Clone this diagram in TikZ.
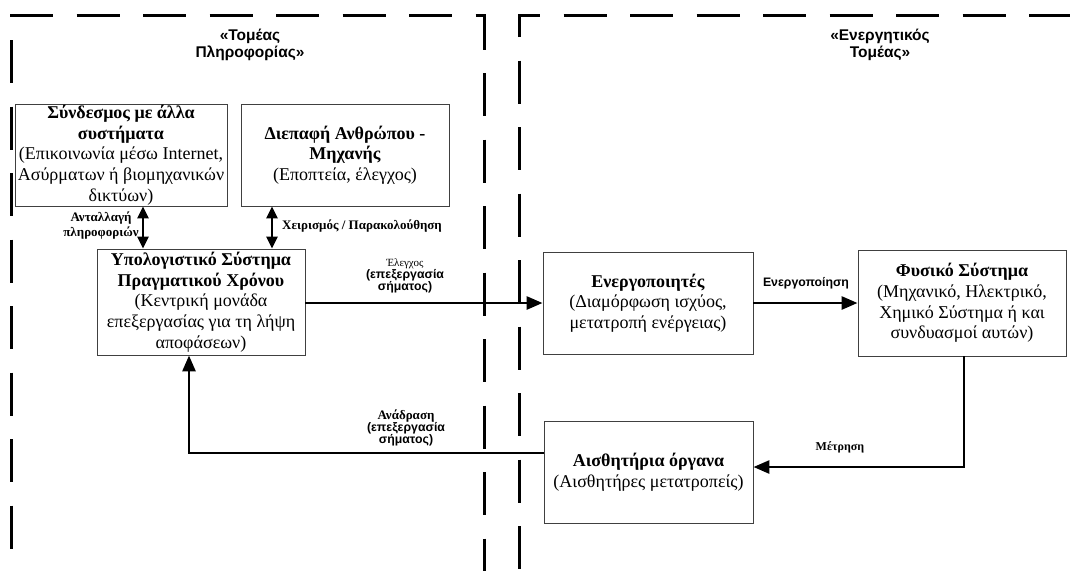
\documentclass[tikz,border=0pt]{standalone}
\usepackage{fontspec}
\setmainfont{Liberation Serif}
\setsansfont{Liberation Sans}
\usetikzlibrary{arrows.meta,calc}
\newcommand\boxfont{\fontsize{18}{20.7}\selectfont}
\newcommand\lblfont{\fontsize{13}{15}\selectfont\bfseries}
\newcommand\sanslbl{\fontsize{12.3}{16}\selectfont\sffamily\bfseries}
\begin{document}
\begin{tikzpicture}[x=1pt,y=-1pt,
  box/.style={draw=black!75,line width=0.9pt,align=center,inner sep=0pt,font=\boxfont},
  frame/.style={line width=3pt,dash pattern=on 43pt off 23.5pt},
  conn/.style={line width=2.8pt,-{Triangle[length=16pt,width=13pt]}},
  biconn/.style={line width=2.8pt,{Triangle[length=12pt,width=11pt]}-{Triangle[length=12pt,width=11pt]}},
  lbl/.style={inner sep=0pt,align=center}]
\useasboundingbox (0,0) rectangle (1070,571);

% dashed domain frames
\draw[frame] (10,15) -- (484,15) -- (484,571);
\draw[frame] (11,40) -- (11,571);
\draw[frame] (519,37) -- (519,15) -- (1070,15);
\draw[frame] (519,60.5) -- (519,571);

% domain titles
\node[lbl,font=\fontsize{15.5}{17}\selectfont\sffamily\bfseries] (t1) at (250,45) {«Τομέας\\Πληροφορίας»};
\node[lbl,font=\fontsize{15.5}{17}\selectfont\sffamily\bfseries] (t2) at (880,45) {«Ενεργητικός\\Τομέας»};

% boxes
\node[box,minimum width=212pt,minimum height=102pt] (b1) at (121,155)
  {\textbf{Σύνδεσμος με άλλα}\\\textbf{συστήματα}\\(Επικοινωνία μέσω Internet,\\Ασύρματων ή βιομηχανικών\\δικτύων)};
\node[box,minimum width=208pt,minimum height=102pt] (b2) at (345,155)
  {\textbf{Διεπαφή Ανθρώπου -}\\\textbf{Μηχανής}\\(Εποπτεία, έλεγχος)};
\node[box,minimum width=208pt,minimum height=106pt] (b3) at (201,302)
  {\textbf{Υπολογιστικό Σύστημα}\\\textbf{Πραγματικού Χρόνου}\\(Κεντρική μονάδα\\επεξεργασίας για τη λήψη\\αποφάσεων)};
\node[box,minimum width=210pt,minimum height=102pt] (b4) at (648,303)
  {\textbf{Ενεργοποιητές}\\(Διαμόρφωση ισχύος,\\μετατροπή ενέργειας)};
\node[box,minimum width=208pt,minimum height=106pt] (b5) at (962,303)
  {\textbf{Φυσικό Σύστημα}\\(Μηχανικό, Ηλεκτρικό,\\Χημικό Σύστημα ή και\\συνδυασμοί αυτών)};
\node[box,minimum width=209pt,minimum height=102pt] (b6) at (648.5,472)
  {\textbf{Αισθητήρια όργανα}\\(Αισθητήρες μετατροπείς)};

% helper coordinates for connector positions
\coordinate (xa) at (143,0);
\coordinate (xb) at (272,0);
\coordinate (cm) at (964,467);
\coordinate (cf) at (189,453);

% connectors
\draw[biconn] (b1.south -| xa) -- (b3.north -| xa);
\draw[biconn] (b2.south -| xb) -- (b3.north -| xb);
\draw[conn] (b3.east |- b4.west) -- (b4.west);
\draw[conn] (b4.east) -- (b5.west);
\draw[conn] (b5.south -| cm) |- (b6.east |- cm);
\draw[conn] (b6.west |- cf) -| (b3.south -| cf);

% labels
\node[lbl,font=\lblfont] (l1) at (101,226) {Ανταλλαγή\\πληροφοριών};
\node[lbl,font=\lblfont,anchor=west] (l2) at (282,226) {Χειρισμός / Παρακολούθηση};
\node[lbl] (l3) at (405,276) {{\fontsize{11}{16.5}\selectfont Έλεγχος}\\{\sanslbl (επεξεργασία}\\{\sanslbl σήματος)}};
\node[lbl,font=\sanslbl] (l4) at (806,283) {Ενεργοποίηση};
\node[lbl,font=\fontsize{12}{15}\selectfont\bfseries] (l5) at (840,447) {Μέτρηση};
\node[lbl] (l6) at (406,428) {{\lblfont Ανάδραση}\\{\sanslbl (επεξεργασία}\\{\sanslbl σήματος)}};
\end{tikzpicture}
\end{document}
